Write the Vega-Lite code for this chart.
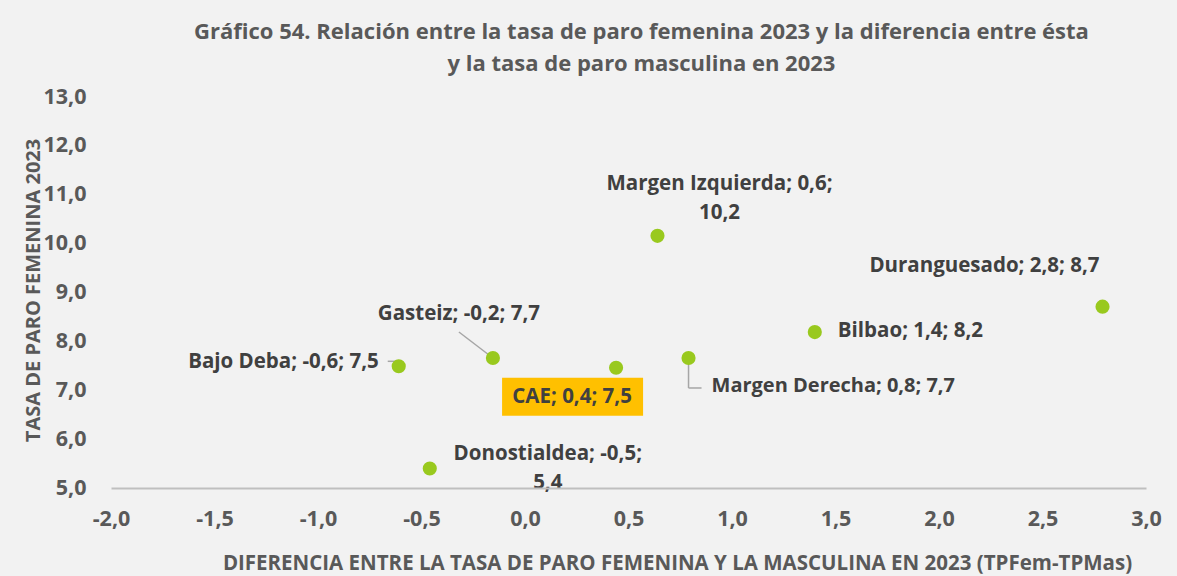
{
  "$schema": "https://vega.github.io/schema/vega-lite/v6.json",
  "width": 1035,
  "height": 391,
  "autosize": {"type": "none"},
  "padding": {"left": 111, "top": 97, "right": 31, "bottom": 88},
  "background": "#f2f2f2",
  "config": {
    "locale": {
      "number": {"decimal": ",", "thousands": ".", "grouping": [3], "currency": ["", " €"], "minus": "-"}
    },
    "view": {"stroke": null},
    "font": "Open Sans"
  },
  "title": {
    "text": [
      "Gráfico 54. Relación entre la tasa de paro femenina 2023 y la diferencia entre ésta",
      "y la tasa de paro masculina en 2023"
    ],
    "font": "Open Sans",
    "fontSize": 22,
    "fontWeight": "bold",
    "color": "#595959",
    "lineHeight": 32,
    "anchor": "middle",
    "dx": 13,
    "offset": 10,
    "zindex": 1
  },
  "data": {
    "values": [
      {"zona": "Bajo Deba", "dif": -0.61, "tasa": 7.49, "etiqueta": "Bajo Deba; -0,6; 7,5"},
      {"zona": "Gasteiz", "dif": -0.155, "tasa": 7.66, "etiqueta": "Gasteiz; -0,2; 7,7"},
      {"zona": "Donostialdea", "dif": -0.46, "tasa": 5.4, "etiqueta": "Donostialdea; -0,5;\n5,4"},
      {"zona": "CAE", "dif": 0.44, "tasa": 7.46, "etiqueta": "CAE; 0,4; 7,5"},
      {"zona": "Margen Izquierda", "dif": 0.64, "tasa": 10.16, "etiqueta": "Margen Izquierda; 0,6;\n10,2"},
      {"zona": "Margen Derecha", "dif": 0.79, "tasa": 7.66, "etiqueta": "Margen Derecha; 0,8; 7,7"},
      {"zona": "Bilbao", "dif": 1.4, "tasa": 8.19, "etiqueta": "Bilbao; 1,4; 8,2"},
      {"zona": "Duranguesado", "dif": 2.79, "tasa": 8.71, "etiqueta": "Duranguesado; 2,8; 8,7"}
    ]
  },
  "encoding": {
    "x": {
      "field": "dif",
      "type": "quantitative",
      "scale": {"domain": [-2, 3], "zero": false, "nice": false},
      "axis": {
        "title": "DIFERENCIA ENTRE LA TASA DE PARO FEMENINA Y LA MASCULINA EN 2023 (TPFem-TPMas)",
        "values": [-2, -1.5, -1, -0.5, 0, 0.5, 1, 1.5, 2, 2.5, 3],
        "format": ".1f",
        "grid": false,
        "ticks": false,
        "tickSize": 0,
        "domainColor": "#bfbfbf",
        "domainWidth": 2,
        "labelFont": "Open Sans",
        "labelFontSize": 21.5,
        "labelFontWeight": "bold",
        "labelColor": "#595959",
        "labelPadding": 20,
        "labelFlush": false,
        "titleFont": "Open Sans",
        "titleFontSize": 20.5,
        "titleFontWeight": "bold",
        "titleColor": "#595959",
        "titleX": 566,
        "titleY": 75,
        "titleAlign": "center",
        "titleBaseline": "middle",
        "zindex": 1
      }
    },
    "y": {
      "field": "tasa",
      "type": "quantitative",
      "scale": {"domain": [5, 13], "zero": false, "nice": false},
      "axis": {
        "title": "TASA DE PARO FEMENINA 2023",
        "values": [5, 6, 7, 8, 9, 10, 11, 12, 13],
        "format": ".1f",
        "grid": false,
        "ticks": false,
        "tickSize": 0,
        "domain": false,
        "labelFont": "Open Sans",
        "labelFontSize": 21.5,
        "labelFontWeight": "bold",
        "labelColor": "#595959",
        "labelPadding": 25,
        "labelFlush": false,
        "titleFont": "Open Sans",
        "titleFontSize": 20,
        "titleFontWeight": "bold",
        "titleColor": "#595959",
        "titleX": -78,
        "titleY": 193,
        "titleAngle": 270,
        "titleAlign": "center",
        "titleBaseline": "middle",
        "zindex": 1
      }
    }
  },
  "layer": [
    {
      "data": {"values": [{}]},
      "mark": {"type": "rule", "color": "#bfbfbf", "strokeWidth": 1.5},
      "encoding": {
        "x": {"datum": 0, "type": "quantitative", "scale": {"domain": [-2, 3], "zero": false, "nice": false}},
        "y": {"datum": 5, "type": "quantitative", "scale": {"domain": [5, 13], "zero": false, "nice": false}},
        "y2": {"datum": 13}
      }
    },
    {
      "transform": [{"filter": "datum.zona === 'Gasteiz'"}],
      "mark": {"type": "rule", "color": "#a6a6a6", "strokeWidth": 1.5, "x2Offset": -34, "y2Offset": -26},
      "encoding": {"x2": {"field": "dif"}, "y2": {"field": "tasa"}}
    },
    {
      "transform": [{"filter": "datum.zona === 'Bajo Deba'"}],
      "mark": {"type": "rule", "color": "#a6a6a6", "strokeWidth": 1.5, "y2Offset": -5},
      "encoding": {"x2": {"field": "dif"}, "y2": {"field": "tasa"}}
    },
    {
      "transform": [{"filter": "datum.zona === 'Bajo Deba'"}],
      "mark": {"type": "rule", "color": "#a6a6a6", "strokeWidth": 1.5, "yOffset": -5, "y2Offset": -5, "x2Offset": -11},
      "encoding": {"x2": {"field": "dif"}, "y2": {"field": "tasa"}}
    },
    {
      "transform": [{"filter": "datum.zona === 'Margen Derecha'"}],
      "mark": {"type": "rule", "color": "#a6a6a6", "strokeWidth": 1.5, "y2Offset": 30},
      "encoding": {"x2": {"field": "dif"}, "y2": {"field": "tasa"}}
    },
    {
      "transform": [{"filter": "datum.zona === 'Margen Derecha'"}],
      "mark": {"type": "rule", "color": "#a6a6a6", "strokeWidth": 1.5, "yOffset": 30, "y2Offset": 30, "x2Offset": 13},
      "encoding": {"x2": {"field": "dif"}, "y2": {"field": "tasa"}}
    },
    {
      "transform": [{"filter": "datum.zona === 'CAE'"}],
      "mark": {"type": "rect", "color": "#ffc000", "xOffset": -114, "x2Offset": 27, "yOffset": 10, "y2Offset": 48},
      "encoding": {"x2": {"field": "dif"}, "y2": {"field": "tasa"}}
    },
    {
      "mark": {"type": "circle", "size": 200, "color": "#99c91e", "opacity": 1}
    },
    {
      "transform": [{"filter": "datum.zona === 'Margen Izquierda'"}],
      "mark": {"type": "text", "font": "Open Sans", "fontSize": 20.5, "fontWeight": "bold", "color": "#404040", "align": "center", "baseline": "middle", "lineBreak": "\n", "lineHeight": 29, "dx": 62, "dy": -52},
      "encoding": {"text": {"field": "etiqueta"}}
    },
    {
      "transform": [{"filter": "datum.zona === 'Donostialdea'"}],
      "mark": {"type": "text", "font": "Open Sans", "fontSize": 20.5, "fontWeight": "bold", "color": "#404040", "align": "center", "baseline": "middle", "lineBreak": "\n", "lineHeight": 29, "dx": 118, "dy": -14},
      "encoding": {"text": {"field": "etiqueta"}}
    },
    {
      "transform": [{"filter": "datum.zona === 'Duranguesado'"}],
      "mark": {"type": "text", "font": "Open Sans", "fontSize": 20.5, "fontWeight": "bold", "color": "#404040", "align": "right", "baseline": "middle", "dx": -3, "dy": -41},
      "encoding": {"text": {"field": "etiqueta"}}
    },
    {
      "transform": [{"filter": "datum.zona === 'Bilbao'"}],
      "mark": {"type": "text", "font": "Open Sans", "fontSize": 20.5, "fontWeight": "bold", "color": "#404040", "align": "left", "baseline": "middle", "dx": 23, "dy": -1},
      "encoding": {"text": {"field": "etiqueta"}}
    },
    {
      "transform": [{"filter": "datum.zona === 'Margen Derecha'"}],
      "mark": {"type": "text", "font": "Open Sans", "fontSize": 20, "fontWeight": "bold", "color": "#404040", "align": "left", "baseline": "middle", "dx": 23, "dy": 28},
      "encoding": {"text": {"field": "etiqueta"}}
    },
    {
      "transform": [{"filter": "datum.zona === 'Gasteiz'"}],
      "mark": {"type": "text", "font": "Open Sans", "fontSize": 20.5, "fontWeight": "bold", "color": "#404040", "align": "center", "baseline": "middle", "dx": -34, "dy": -44},
      "encoding": {"text": {"field": "etiqueta"}}
    },
    {
      "transform": [{"filter": "datum.zona === 'Bajo Deba'"}],
      "mark": {"type": "text", "font": "Open Sans", "fontSize": 20.5, "fontWeight": "bold", "color": "#404040", "align": "right", "baseline": "middle", "dx": -20, "dy": -4},
      "encoding": {"text": {"field": "etiqueta"}}
    },
    {
      "transform": [{"filter": "datum.zona === 'CAE'"}],
      "mark": {"type": "text", "font": "Open Sans", "fontSize": 20.5, "fontWeight": "bold", "color": "#404040", "align": "center", "baseline": "middle", "dx": -44, "dy": 29},
      "encoding": {"text": {"field": "etiqueta"}}
    }
  ]
}
